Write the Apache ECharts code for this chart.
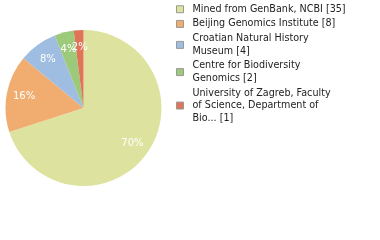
<!DOCTYPE html>
<html>
<head>
<meta charset="utf-8">
<style>
  html, body { margin: 0; padding: 0; background: #ffffff; }
  #chart { width: 380px; height: 240px; }
</style>
<script src="https://cdn.jsdelivr.net/npm/echarts@6/dist/echarts.min.js"></script>
</head>
<body>
<div id="chart"></div>
<script>
const categories = [
  "Mined from GenBank, NCBI [35]",
  "Beijing Genomics Institute [8]",
  "Croatian Natural History\nMuseum [4]",
  "Centre for Biodiversity\nGenomics [2]",
  "University of Zagreb, Faculty\nof Science, Department of\nBio... [1]"
];
const values = [35, 8, 4, 2, 1];
const colors = ["#dde39e", "#f0ad6f", "#9ebde0", "#9cc97a", "#e07459"];

const chart = echarts.init(document.getElementById('chart'), null, { renderer: 'canvas' });
const pieData = categories.map((name, i) => ({ name: name, value: values[i] }));
const FONT = "DejaVu Sans";

chart.setOption({
  animation: false,
  color: colors,
  legend: {
    orient: 'vertical',
    left: 176,
    top: 3,
    padding: 0,
    itemWidth: 7,
    itemHeight: 7,
    itemGap: 2.2,
    icon: 'rect',
    selectedMode: false,
    itemStyle: { borderColor: '#999999', borderWidth: 1 },
    textStyle: { fontFamily: FONT, fontSize: 9.6, lineHeight: 12.5, color: '#222222', padding: [0, 0, 0, 4] },
    data: categories
  },
  series: [
    {
      type: 'pie',
      center: [83.5, 108],
      radius: [0, 78],
      startAngle: 90,
      clockwise: true,
      avoidLabelOverlap: false,
      label: { show: false },
      labelLine: { show: false },
      itemStyle: { borderWidth: 0 },
      emphasis: { disabled: true },
      data: pieData
    },
    {
      type: 'pie',
      center: [83.5, 108],
      radius: [37, 78],
      startAngle: 90,
      clockwise: true,
      silent: true,
      avoidLabelOverlap: false,
      labelLayout: { hideOverlap: false },
      itemStyle: { color: 'rgba(0,0,0,0)', borderWidth: 0 },
      label: {
        show: true,
        position: 'inside',
        formatter: p => Math.round(p.percent) + '%',
        color: '#ffffff',
        fontFamily: FONT,
        fontSize: 10
      },
      labelLine: { show: false },
      emphasis: { disabled: true },
      data: pieData
    }
  ]
});
</script>
</body>
</html>
